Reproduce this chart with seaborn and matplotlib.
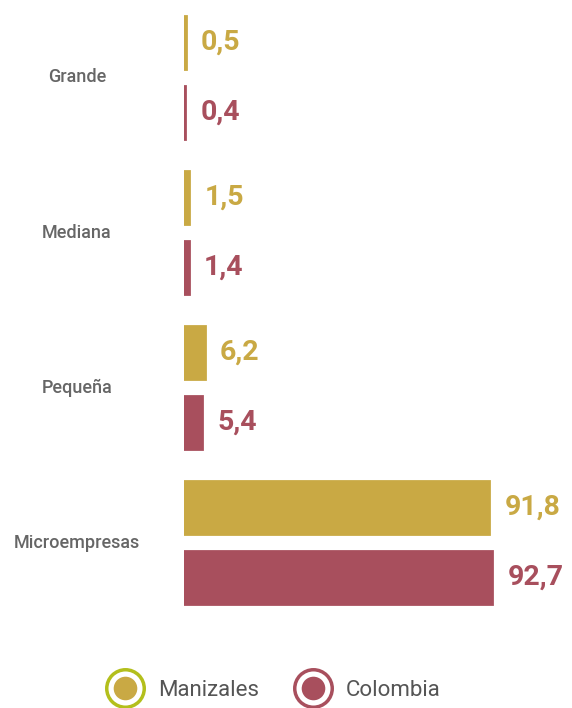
import pandas as pd
import matplotlib.pyplot as plt
import matplotlib.transforms as mtransforms
from matplotlib.lines import Line2D
from matplotlib.legend_handler import HandlerTuple
import seaborn as sns

# Datos: distribucion de empresas por tamano (%)
categorias = ['Grande', 'Mediana', 'Pequeña', 'Microempresas']
manizales = [0.5, 1.5, 6.2, 91.8]
colombia = [0.4, 1.4, 5.4, 92.7]
series = ['Manizales', 'Colombia']

col_man = '#C9A944'
col_col = '#A84F5D'
ring_man = '#B3BF1C'

df = pd.DataFrame({
    'categoria': categorias * 2,
    'valor': manizales + colombia,
    'serie': ['Manizales'] * 4 + ['Colombia'] * 4,
})

sns.set_style('white')
plt.rcParams['font.family'] = ['Roboto', 'DejaVu Sans']

fig = plt.figure(figsize=(5.72, 7.08), dpi=100)
ax = fig.add_axes([184 / 572, 88 / 708, 336 / 572, 620 / 708])

sns.barplot(data=df, x='valor', y='categoria', hue='serie', hue_order=series,
            order=categorias, palette=[col_man, col_col], orient='h',
            width=0.90, gap=0.24, saturation=1, ax=ax, legend=False)

# borde del mismo color para que las barras pequenas se vean
for cont, col in zip(ax.containers, [col_man, col_col]):
    for b in cont:
        b.set_edgecolor(col)
        b.set_linewidth(2)

ax.set_xlim(0, 101)
ax.set_ylim(3.5, -0.5)
ax.set_xlabel('')
ax.set_ylabel('')
ax.set_xticks([])
ax.set_yticks([])
sns.despine(ax=ax, left=True, bottom=True)

# Etiquetas de valores
for cont, col in zip(ax.containers, [col_man, col_col]):
    etiquetas = [f'{b.get_width():.1f}'.replace('.', ',') for b in cont]
    ax.bar_label(cont, labels=etiquetas, padding=11, color=col,
                 fontsize=20.5, fontweight='bold')

# Etiquetas de categorias centradas a la izquierda
trans = mtransforms.blended_transform_factory(fig.transFigure, ax.transData)
for i, c in enumerate(categorias):
    ax.text(77 / 572, i, c, transform=trans, ha='center', va='center',
            fontsize=13, color='#666666', fontweight='medium')

# Leyenda con circulos
h_man = (Line2D([], [], marker='o', ls='', markersize=27, markerfacecolor='white',
                markeredgecolor=ring_man, markeredgewidth=2.5),
         Line2D([], [], marker='o', ls='', markersize=17, markerfacecolor=col_man,
                markeredgewidth=0))
h_col = (Line2D([], [], marker='o', ls='', markersize=27, markerfacecolor='white',
                markeredgecolor=col_col, markeredgewidth=2.5),
         Line2D([], [], marker='o', ls='', markersize=17, markerfacecolor=col_col,
                markeredgewidth=0))
leg = fig.legend([h_man, h_col], series, handler_map={tuple: HandlerTuple(ndivide=1, pad=0)},
                 loc='center', bbox_to_anchor=(274 / 572, 1 - 690 / 708), ncol=2,
                 frameon=False, fontsize=16, handlelength=1.6, handletextpad=0.7,
                 columnspacing=1.6)
for t in leg.get_texts():
    t.set_color('#555555')

fig.savefig('out.png', dpi=100)
